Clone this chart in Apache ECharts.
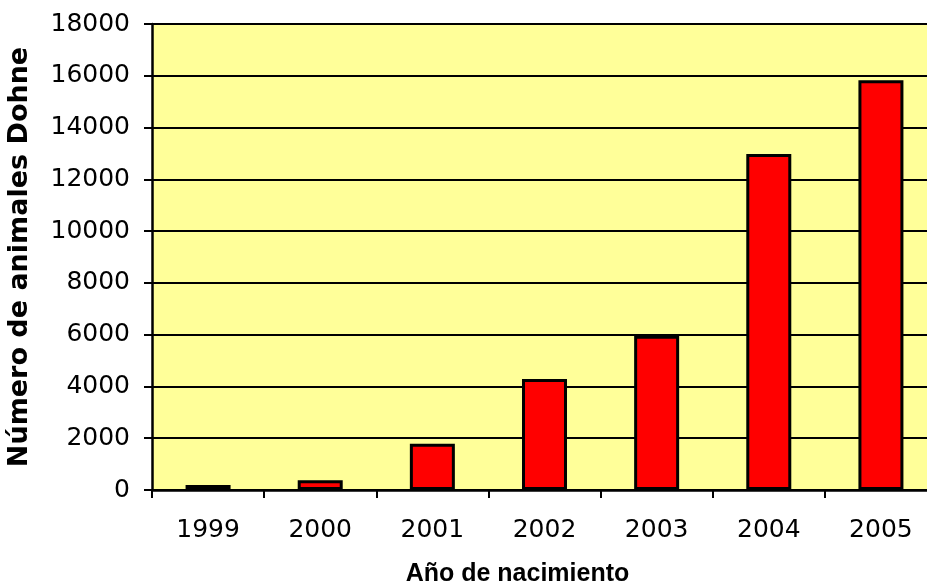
<!DOCTYPE html>
<html>
<head>
<meta charset="utf-8">
<script src="https://cdn.jsdelivr.net/npm/echarts@6/dist/echarts.min.js"></script>
<style>
html,body{margin:0;padding:0;background:#fff;}
#chart{width:927px;height:588px;}
</style>
</head>
<body>
<div id="chart"></div>
<script>
const categories = ['1999','2000','2001','2002','2003','2004','2005'];
const values = [190, 380, 1790, 4290, 5960, 12980, 15830];
const yTicks = [0, 2000, 4000, 6000, 8000, 10000, 12000, 14000, 16000, 18000];
const xTitle = 'Año de nacimiento';
const yTitle = 'Número de animales Dohne';

const chart = echarts.init(document.getElementById('chart'), null, {renderer:'canvas'});
chart.setOption({
  animation: false,
  backgroundColor: '#ffffff',
  grid: {
    left: 152, top: 24, width: 785, bottom: 98,
    containLabel: false,
    outerBoundsMode: 'none',
    show: true, backgroundColor: '#FFFF99', borderWidth: 0
  },
  xAxis: {
    type: 'category',
    data: categories,
    boundaryGap: true,
    axisLine: {lineStyle: {color: '#000', width: 2.5}},
    axisTick: {show: true, inside: false, length: 8, lineStyle: {color: '#000', width: 2}},
    axisLabel: {color: '#000', fontFamily: 'DejaVu Sans', fontSize: 25, margin: 28},
    name: xTitle,
    nameLocation: 'middle',
    nameGap: 72,
    nameTextStyle: {color: '#000', fontFamily: 'Liberation Sans', fontWeight: 'bold', fontSize: 25,
      padding: [0, 54, 0, 0]},
    splitLine: {show: false}
  },
  yAxis: {
    type: 'value',
    min: yTicks[0],
    max: yTicks[yTicks.length - 1],
    interval: 2000,
    axisLine: {show: true, lineStyle: {color: '#000', width: 2.5}},
    axisTick: {show: true, inside: false, length: 8, lineStyle: {color: '#000', width: 2}},
    axisLabel: {color: '#000', fontFamily: 'DejaVu Sans', fontSize: 25, margin: 22,
      formatter: function (v) { return String(v); }},
    splitLine: {show: true, lineStyle: {color: '#000', width: 2}},
    name: yTitle,
    nameLocation: 'middle',
    nameGap: 119,
    nameRotate: 90,
    nameTextStyle: {color: '#000', fontFamily: 'DejaVu Sans', fontWeight: 'bold', fontSize: 27}
  },
  series: [{
    type: 'bar',
    data: values,
    barWidth: 45,
    itemStyle: {color: '#FF0000', borderColor: '#000', borderWidth: 3}
  }]
});
</script>
</body>
</html>
